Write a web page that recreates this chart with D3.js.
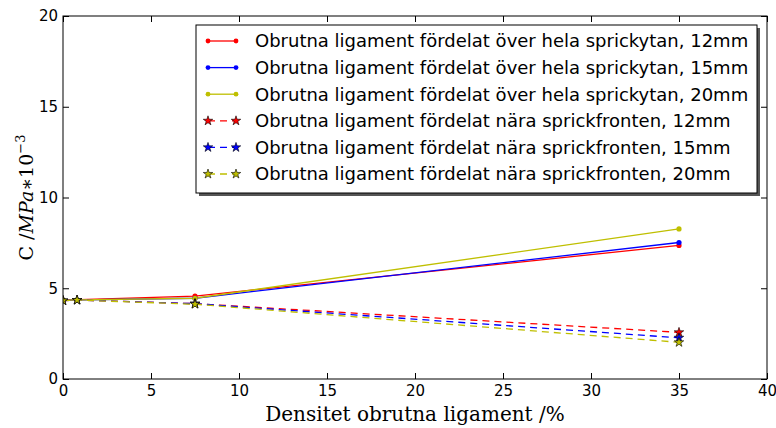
<!DOCTYPE html>
<html>
<head>
<meta charset="utf-8">
<script src="https://cdn.jsdelivr.net/npm/d3@7"></script>
<style>
  body { margin: 0; background: #fff; }
  svg { display: block; }
</style>
</head>
<body>
<div id="chart"></div>
<script>
// data
const xSolid = [0, 7.5, 35];
const c12Solid = [4.35, 4.57, 7.36];
const c15Solid = [4.35, 4.45, 7.52];
const c20Solid = [4.35, 4.45, 8.27];

const xStar = [0, 0.8, 7.5, 35];
const c12Star = [4.32, 4.35, 4.15, 2.57];
const c15Star = [4.32, 4.35, 4.15, 2.27];
const c20Star = [4.32, 4.35, 4.12, 2.02];

const labels = [
  "Obrutna ligament fördelat över hela sprickytan, 12mm",
  "Obrutna ligament fördelat över hela sprickytan, 15mm",
  "Obrutna ligament fördelat över hela sprickytan, 20mm",
  "Obrutna ligament fördelat nära sprickfronten, 12mm",
  "Obrutna ligament fördelat nära sprickfronten, 15mm",
  "Obrutna ligament fördelat nära sprickfronten, 20mm"
];
const xTicks = [0, 5, 10, 15, 20, 25, 30, 35, 40];
const yTicks = [0, 5, 10, 15, 20];

const series = [
  {x: xSolid, y: c12Solid, color: "#ff0000", dashed: false},
  {x: xSolid, y: c15Solid, color: "#0000ff", dashed: false},
  {x: xSolid, y: c20Solid, color: "#bfbf00", dashed: false},
  {x: xStar, y: c12Star, color: "#ff0000", dashed: true},
  {x: xStar, y: c15Star, color: "#0000ff", dashed: true},
  {x: xStar, y: c20Star, color: "#bfbf00", dashed: true}
];

const margin = {top: 16, right: 9, bottom: 49, left: 63};
const width = 776 - margin.left - margin.right;
const height = 428 - margin.top - margin.bottom;

const svg = d3.select("#chart").append("svg")
  .attr("width", 776)
  .attr("height", 428);

const g = svg.append("g")
  .attr("transform", "translate(" + margin.left + "," + margin.top + ")");

const x = d3.scaleLinear().domain([0, 40]).range([0, width]);
const y = d3.scaleLinear().domain([0, 20]).range([height, 0]);

g.append("defs").append("clipPath").attr("id", "clip")
  .append("rect").attr("width", width).attr("height", height);

// lines
const line = d3.line();
const plot = g.append("g").attr("clip-path", "url(#clip)");

series.forEach(function(s) {
  const pts = s.x.map(function(v, i) { return [x(v), y(s.y[i])]; });
  plot.append("path")
    .attr("d", line(pts))
    .attr("fill", "none")
    .attr("stroke", s.color)
    .attr("stroke-width", 1.3)
    .attr("stroke-dasharray", s.dashed ? "7,5" : null);
});

const star = d3.symbol().type(d3.symbolStar).size(28);

series.forEach(function(s) {
  s.x.forEach(function(v, i) {
    if (s.dashed) {
      plot.append("path")
        .attr("d", star)
        .attr("transform", "translate(" + x(v) + "," + y(s.y[i]) + ")")
        .attr("fill", s.color)
        .attr("stroke", "#000")
        .attr("stroke-width", 0.6);
    } else {
      plot.append("circle")
        .attr("cx", x(v)).attr("cy", y(s.y[i]))
        .attr("r", 2.6)
        .attr("fill", s.color);
    }
  });
});

// axes, ticks pointing inward like matplotlib classic
function styleAxis(sel) {
  sel.select(".domain").remove();
  sel.selectAll("line").attr("stroke", "#000");
  sel.selectAll("text")
    .attr("font-family", "DejaVu Sans, sans-serif")
    .attr("font-size", 15)
    .attr("fill", "#000");
}

g.append("g")
  .attr("transform", "translate(0," + height + ")")
  .call(d3.axisBottom(x).tickValues(xTicks).tickSize(-6).tickPadding(6))
  .call(styleAxis);

g.append("g")
  .call(d3.axisLeft(y).tickValues(yTicks).tickSize(-6).tickPadding(5))
  .call(styleAxis);

g.append("g")
  .call(d3.axisTop(x).tickValues(xTicks).tickSize(-6).tickFormat(""))
  .call(styleAxis);

g.append("g")
  .attr("transform", "translate(" + width + ",0)")
  .call(d3.axisRight(y).tickValues(yTicks).tickSize(-6).tickFormat(""))
  .call(styleAxis);

g.append("rect")
  .attr("width", width).attr("height", height)
  .attr("fill", "none").attr("stroke", "#000").attr("stroke-width", 1);

// axis titles
g.append("text")
  .attr("x", width / 2)
  .attr("y", height + 42)
  .attr("text-anchor", "middle")
  .attr("font-family", "DejaVu Serif, serif")
  .attr("font-size", 20)
  .text("Densitet obrutna ligament /%");

const yl = g.append("text")
  .attr("transform", "translate(-30," + (height / 2) + ") rotate(-90)")
  .attr("text-anchor", "middle")
  .attr("font-family", "DejaVu Serif, serif")
  .attr("font-size", 19);
yl.append("tspan").text("C /");
yl.append("tspan").attr("font-style", "italic").text("MPa");
yl.append("tspan").text("\u2217");
yl.append("tspan").text("10");
yl.append("tspan").attr("dy", -8).attr("font-size", 13).text("\u22123");

// legend
const lgX = 196 - margin.left, lgY = 25 - margin.top;
const lgW = 561, lgH = 168;
const legend = g.append("g").attr("transform", "translate(" + lgX + "," + lgY + ")");
legend.append("rect")
  .attr("x", 3).attr("y", 3)
  .attr("width", lgW).attr("height", lgH)
  .attr("fill", "#555");
legend.append("rect")
  .attr("width", lgW).attr("height", lgH)
  .attr("fill", "#fff").attr("stroke", "#000").attr("stroke-width", 1);

series.forEach(function(s, i) {
  const row = legend.append("g").attr("transform", "translate(0," + (16 + i * 26.6) + ")");
  row.append("line")
    .attr("x1", 12).attr("x2", 40)
    .attr("stroke", s.color).attr("stroke-width", 1.3)
    .attr("stroke-dasharray", s.dashed ? "7,5" : null);
  [12, 40].forEach(function(px) {
    if (s.dashed) {
      row.append("path").attr("d", star)
        .attr("transform", "translate(" + px + ",0)")
        .attr("fill", s.color).attr("stroke", "#000").attr("stroke-width", 0.6);
    } else {
      row.append("circle").attr("cx", px).attr("r", 2.4).attr("fill", s.color);
    }
  });
  row.append("text")
    .attr("x", 59).attr("dy", "0.35em")
    .attr("font-family", "DejaVu Sans, sans-serif")
    .attr("font-size", 18)
    .text(labels[i]);
});
</script>
</body>
</html>
